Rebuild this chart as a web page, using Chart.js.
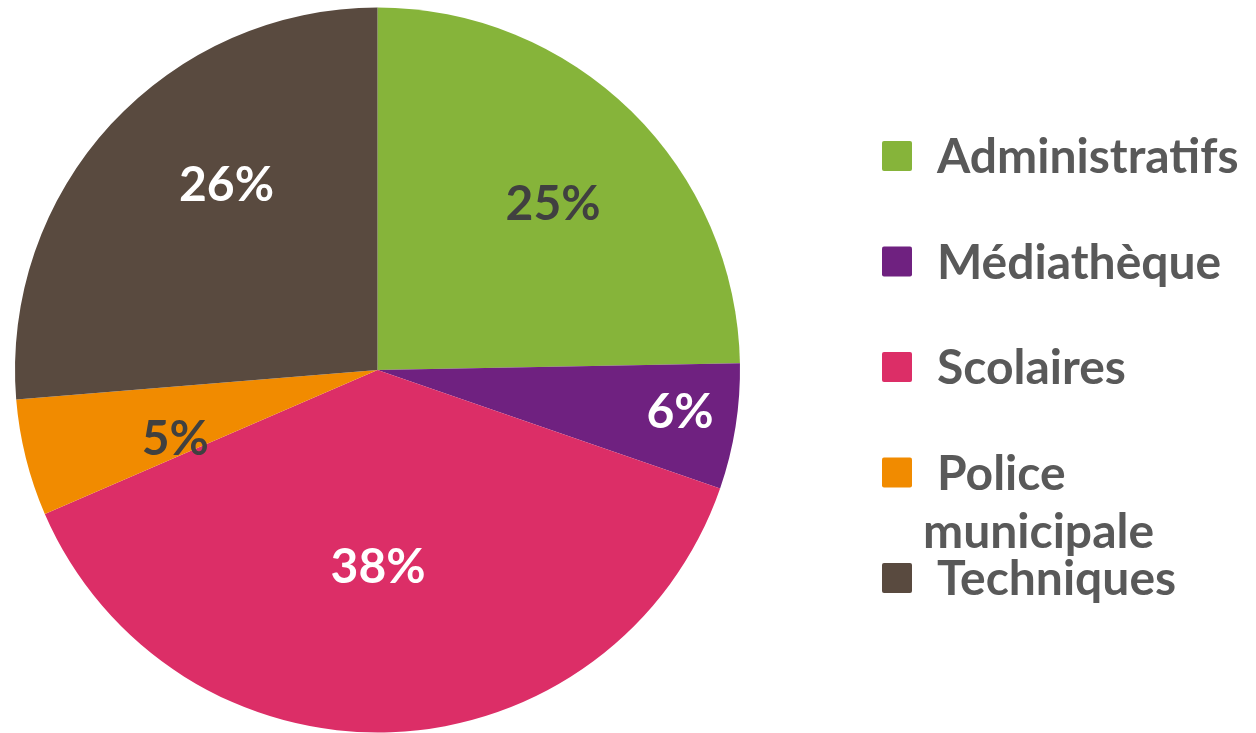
<!DOCTYPE html>
<html>
<head>
<meta charset="utf-8">
<script src="https://cdn.jsdelivr.net/npm/chart.js@4/dist/chart.umd.min.js"></script>
<style>
  html, body { margin: 0; padding: 0; background: #fff; }
  #wrap { width: 1256px; height: 733px; position: relative; }
</style>
</head>
<body>
<div id="wrap"><canvas id="pieChart"></canvas></div>
<script>
// data (shares in %, labels show them rounded)
const categories = ['Administratifs', 'Médiathèque', 'Scolaires', 'Police municipale', 'Techniques'];
const shares = [24.7, 5.6, 38.2, 5.2, 26.3];

// styling
const sliceColors = ['#86B43A', '#6F2180', '#DC2E67', '#F18B00', '#594A3F'];
const labelColors = ['#404040', '#ffffff', '#ffffff', '#404040', '#ffffff'];
const labelRadius = [0.665, 0.843, 0.546, 0.59, 0.657]; // fraction of outer radius
const labelShift = [2.3, -1, 2, -5, 8];                  // degrees, clockwise
const fontFamily = 'Lato, "Open Sans", sans-serif';

// percentage labels drawn inside the slices
const sliceLabels = {
    id: 'sliceLabels',
    afterDatasetsDraw(chart) {
        const ctx = chart.ctx;
        const meta = chart.getDatasetMeta(0);
        const total = shares.reduce((a, b) => a + b, 0);
        ctx.save();
        ctx.font = 'bold 48px ' + fontFamily;
        ctx.textAlign = 'center';
        ctx.textBaseline = 'middle';
        meta.data.forEach((arc, i) => {
            const p = arc.getProps(['x', 'y', 'startAngle', 'endAngle', 'outerRadius']);
            const mid = (p.startAngle + p.endAngle) / 2 + labelShift[i] * Math.PI / 180;
            const r = p.outerRadius * labelRadius[i];
            ctx.fillStyle = labelColors[i];
            const pct = Math.round(shares[i] / total * 100);
            ctx.fillText(pct + '%', p.x + Math.cos(mid) * r, p.y + Math.sin(mid) * r);
        });
        ctx.restore();
    }
};

// legend on the right, with word wrap like the original
const sideLegend = {
    id: 'sideLegend',
    afterDraw(chart) {
        const ctx = chart.ctx;
        const boxX = 882, box = 30, textX = 937, wrapX = 923;
        const firstY = 156, step = 105.5, maxRight = chart.width - 4;
        ctx.save();
        ctx.font = 'bold 48px ' + fontFamily;
        ctx.textBaseline = 'middle';
        categories.forEach((name, i) => {
            const cy = firstY + i * step;
            ctx.fillStyle = sliceColors[i];
            ctx.beginPath();
            ctx.roundRect(boxX, cy - box / 2, box, box, 2);
            ctx.fill();
            ctx.fillStyle = '#595959';
            // simple word wrap
            const words = name.split(' ');
            let line = '', y = cy + 2, x = textX;
            words.forEach(w => {
                const test = line ? line + ' ' + w : w;
                if (line && x + ctx.measureText(test).width > maxRight) {
                    ctx.fillText(line, x, y);
                    line = w;
                    x = wrapX;
                    y += 58;
                } else {
                    line = test;
                }
            });
            ctx.fillText(line, x, y);
        });
        ctx.restore();
    }
};

new Chart(document.getElementById('pieChart').getContext('2d'), {
    type: 'pie',
    data: {
        labels: categories,
        datasets: [{
            data: shares,
            backgroundColor: sliceColors,
            borderWidth: 0
        }]
    },
    options: {
        responsive: true,
        maintainAspectRatio: false,
        animation: false,
        layout: {
            padding: { left: 15, top: 7, right: 516, bottom: 0 }
        },
        plugins: {
            legend: { display: false },
            tooltip: { enabled: false }
        }
    },
    plugins: [sliceLabels, sideLegend]
});
</script>
</body>
</html>
